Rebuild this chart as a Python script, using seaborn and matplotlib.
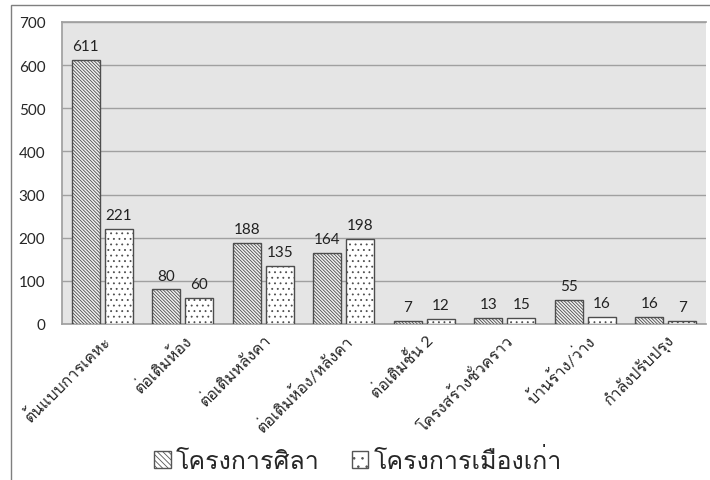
import pandas as pd
import matplotlib
matplotlib.use("Agg")
import matplotlib.pyplot as plt
import seaborn as sns
from matplotlib import font_manager
from matplotlib.ft2font import FT2Font
from matplotlib.patches import Patch, Rectangle

categories = ["ต้นแบบการเคหะ", "ต่อเติมห้อง", "ต่อเติมหลังคา", "ต่อเติมห้อง/หลังคา",
              "ต่อเติมชั้น 2", "โครงสร้างชั่วคราว", "บ้านร้าง/ว่าง", "กำลังปรับปรุง"]
series_names = ["โครงการศิลา", "โครงการเมืองเก่า"]
sila = [611, 80, 188, 164, 7, 13, 55, 16]
muang_kao = [221, 60, 135, 198, 12, 15, 16, 7]
y_ticks = [0, 100, 200, 300, 400, 500, 600, 700]

# find an installed font that has Thai glyphs
thai_font = None
for f in font_manager.fontManager.ttflist:
    try:
        if 0x0E01 in FT2Font(f.fname).get_charmap():
            thai_font = f.name
            break
    except Exception:
        pass

sns.set_theme(style="white")
fams = ["Lato"] + ([thai_font] if thai_font else []) + ["DejaVu Sans"]
plt.rcParams["font.family"] = fams
plt.rcParams["hatch.linewidth"] = 0.6

df = pd.DataFrame({
    "category": categories * 2,
    "series": [series_names[0]] * len(categories) + [series_names[1]] * len(categories),
    "value": sila + muang_kao,
})

fig = plt.figure(figsize=(7.1, 4.81), dpi=100)
ax = fig.add_axes([62 / 710, 1 - 325 / 481, 644 / 710, 302 / 481])

# chart border
fig.patches.append(Rectangle((11 / 710, -0.02), 1.0, 1 - 6 / 481 + 0.02,
                             transform=fig.transFigure, fill=False,
                             edgecolor="#7f7f7f", linewidth=1.0))

sns.barplot(data=df, x="category", y="value", hue="series", ax=ax,
            palette=["#f2f2f2", "white"], width=0.82, gap=0.14,
            edgecolor="#555555", linewidth=1.0, legend=False, zorder=3)

hatches = ["\\" * 10, "..."]
for cont, h in zip(ax.containers, hatches):
    for bar in cont:
        bar.set_hatch(h)
        bar.set_edgecolor("#4d4d4d")
    ax.bar_label(cont, fontsize=11, padding=5, color="#222222")

ax.set_facecolor("#e5e5e5")
ax.set_ylim(0, 700)
ax.set_yticks(y_ticks)
ax.yaxis.grid(True, color="#a0a0a0", linewidth=1.0, zorder=0)
ax.set_axisbelow(True)
for s in ax.spines.values():
    s.set_color("#a0a0a0")
ax.spines["right"].set_visible(False)
ax.set_xlabel("")
ax.set_ylabel("")
ax.tick_params(axis="y", labelsize=11, pad=12, length=0)
ax.tick_params(axis="x", length=0, pad=5)
ax.set_xticks(range(len(categories)))
ax.set_xticklabels(categories, rotation=45, ha="right", rotation_mode="anchor",
                   fontsize=11.5)
ax.set_xlim(-0.5, len(categories) - 0.5)

handles = [Patch(facecolor="white", edgecolor="#555555", hatch="\\" * 6),
           Patch(facecolor="white", edgecolor="#555555", hatch="..")]
fig.legend(handles, series_names, loc="center", bbox_to_anchor=(358 / 710, 1 - 461 / 481),
           ncol=2, frameon=False, fontsize=18, handlelength=0.65, handleheight=0.65,
           handletextpad=0.2, columnspacing=1.3)

fig.savefig("out.png", dpi=100)
